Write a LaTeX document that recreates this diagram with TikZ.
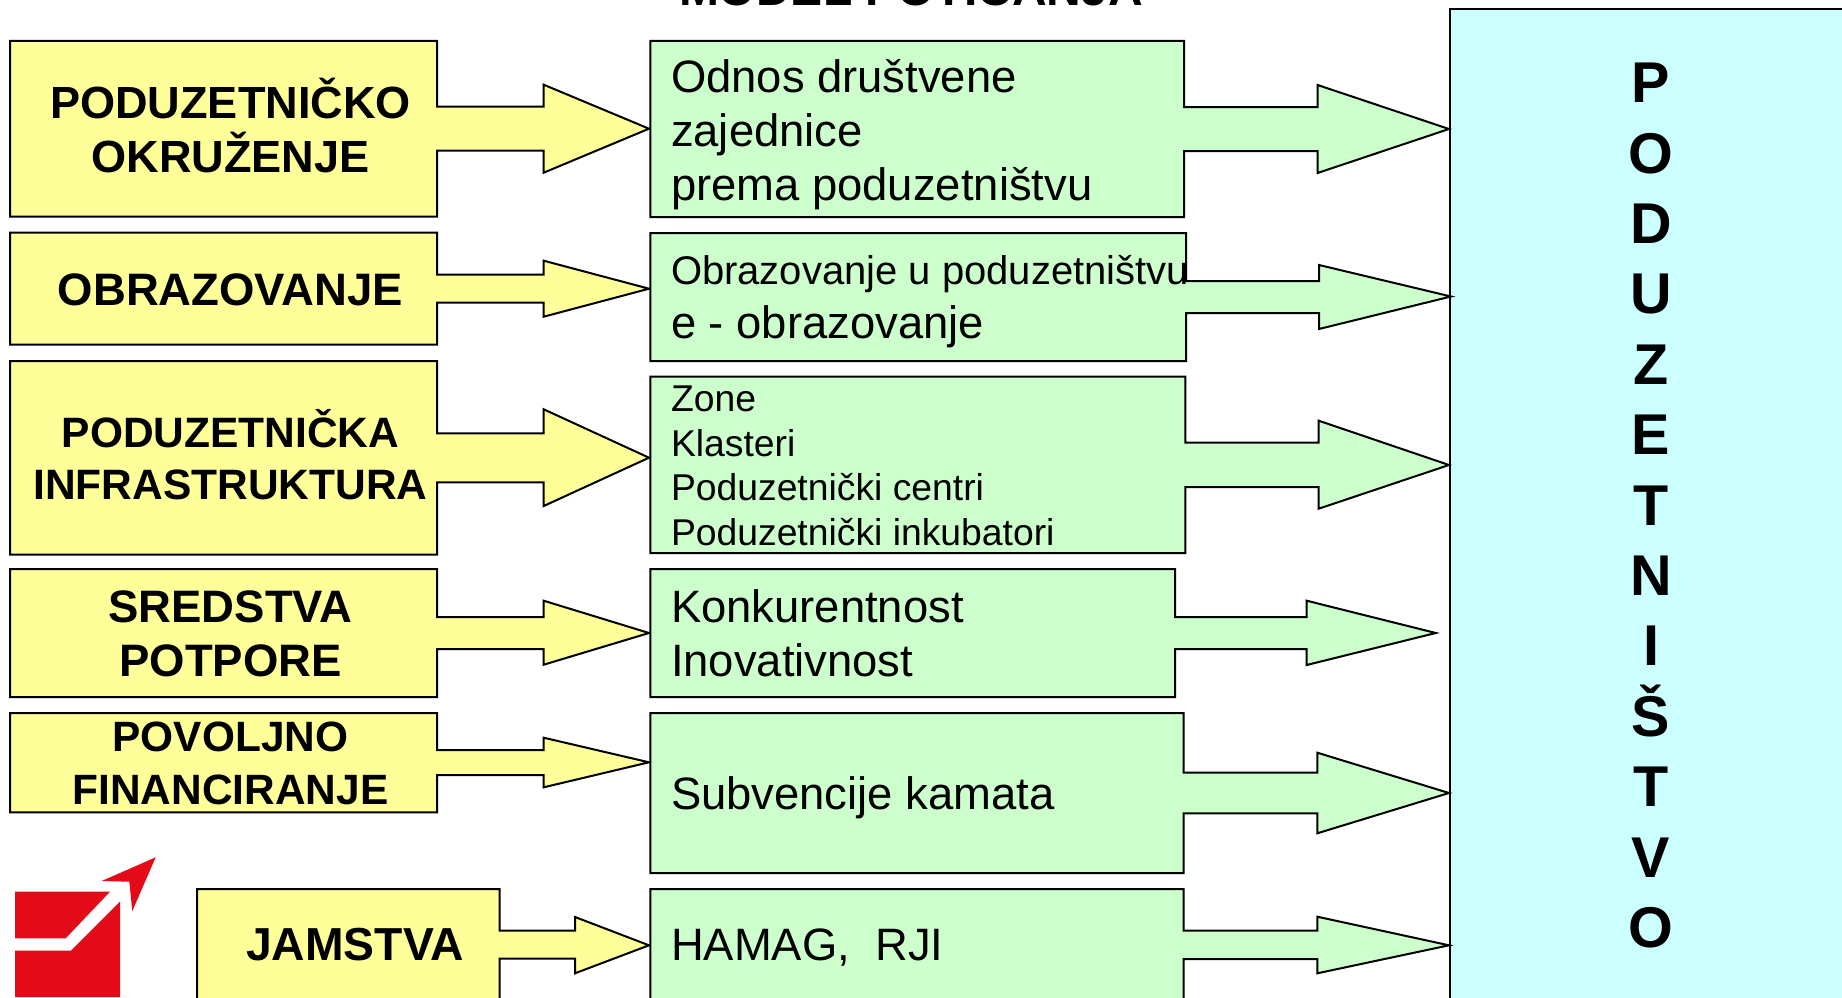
\documentclass[tikz,border=0pt]{standalone}
\usepackage{fontspec}
\setmainfont{Liberation Sans}
\definecolor{byellow}{HTML}{FFFF99}
\definecolor{bgreen}{HTML}{CCFFCC}
\definecolor{bcyan}{HTML}{CCFFFF}
\definecolor{logored}{HTML}{E30B17}
\tikzset{
  ybox/.style={draw=black,line width=2pt,fill=byellow,line join=miter},
  gbox/.style={draw=black,line width=2pt,fill=bgreen,line join=miter},
  cbox/.style={draw=black,line width=2pt,fill=bcyan},
  logo/.style={fill=logored,draw=none},
  ylabel/.style={inner sep=0pt,anchor=base,align=center,font=\fontsize{45.5}{54}\selectfont\bfseries},
  glabel/.style={inner sep=0pt,anchor=base west,align=left,font=\fontsize{45.4}{54}\selectfont},
}
\begin{document}
\begin{tikzpicture}[x=1pt,y=-1pt]
\useasboundingbox (0,0) rectangle (1842,998);
\clip (0,0) rectangle (1842,998);
\fill[white] (0,0) rectangle (1842,998);
% right box
\draw[cbox] (1450,9) rectangle (1900,1100);
% yellow boxes with block arrows
\draw[ybox] (10,41) -- (437,41) -- (437,106.7) -- (543.7,106.7) -- (543.7,84.7) -- (649,128.7) -- (543.7,172.7) -- (543.7,150.7) -- (437,150.7) -- (437,216.7) -- (10,216.7) -- cycle;
\draw[ybox] (10,232.7) -- (437,232.7) -- (437,274.7) -- (543.7,274.7) -- (543.7,260.7) -- (649,288.7) -- (543.7,316.7) -- (543.7,302.7) -- (437,302.7) -- (437,344.7) -- (10,344.7) -- cycle;
\draw[ybox] (10,361) -- (437,361) -- (437,433.3) -- (543.7,433.3) -- (543.7,409.3) -- (649,457.7) -- (543.7,506) -- (543.7,482.3) -- (437,482.3) -- (437,554.7) -- (10,554.7) -- cycle;
\draw[ybox] (10,569) -- (437,569) -- (437,617) -- (543.7,617) -- (543.7,600.7) -- (649,633) -- (543.7,664.7) -- (543.7,649) -- (437,649) -- (437,697) -- (10,697) -- cycle;
\draw[ybox] (10,713) -- (437,713) -- (437,750) -- (543.7,750) -- (543.7,737.7) -- (649,762.3) -- (543.7,787.3) -- (543.7,775) -- (437,775) -- (437,812.3) -- (10,812.3) -- cycle;
\draw[ybox] (197,889) -- (499.5,889) -- (499.5,930.7) -- (575,930.7) -- (575,917) -- (649,945.3) -- (575,973.3) -- (575,958.7) -- (499.5,958.7) -- (499.5,1020) -- (197,1020) -- cycle;
% green boxes with block arrows
\draw[gbox] (650.3,41) -- (1184,41) -- (1184,107) -- (1317.6,107) -- (1317.6,85) -- (1449,129) -- (1317.6,173) -- (1317.6,151) -- (1184,151) -- (1184,217) -- (650.3,217) -- cycle;
\draw[gbox] (650.3,233) -- (1186,233) -- (1186,281) -- (1319,281) -- (1319,265) -- (1451,296.5) -- (1319,329) -- (1319,313) -- (1186,313) -- (1186,361) -- (650.3,361) -- cycle;
\draw[gbox] (650.3,376.7) -- (1185.3,376.7) -- (1185.3,442.7) -- (1318.7,442.7) -- (1318.7,420.7) -- (1449,465) -- (1318.7,508.7) -- (1318.7,487) -- (1185.3,487) -- (1185.3,553) -- (650.3,553) -- cycle;
\draw[gbox] (650.3,569) -- (1175,569) -- (1175,617) -- (1306.7,617) -- (1306.7,600.7) -- (1435.7,633) -- (1306.7,665) -- (1306.7,649) -- (1175,649) -- (1175,697) -- (650.3,697) -- cycle;
\draw[gbox] (650.3,713) -- (1183.7,713) -- (1183.7,772.7) -- (1317.3,772.7) -- (1317.3,752.7) -- (1449,793) -- (1317.3,833.3) -- (1317.3,813.3) -- (1183.7,813.3) -- (1183.7,873) -- (650.3,873) -- cycle;
\draw[gbox] (650.3,889) -- (1183.7,889) -- (1183.7,930.7) -- (1317.3,930.7) -- (1317.3,916.7) -- (1449,945.3) -- (1317.3,973.3) -- (1317.3,959) -- (1183.7,959) -- (1183.7,1020) -- (650.3,1020) -- cycle;
% logo
\fill[logo] (15,891.7) -- (110,891.7) -- (65.7,938.3) -- (15,938.3) -- cycle;
\fill[logo] (15,950.7) -- (71,950.7) -- (120,901.7) -- (120,997) -- (15,997) -- cycle;
\fill[logo] (155.7,857.3) -- (101.7,881) -- (129.3,881.7) -- (132.3,911) -- cycle;
% title
\node[ylabel,font=\fontsize{48}{54}\selectfont\bfseries] (title) at (911,6) {MODEL POTICANJA};
% yellow labels
\node[ylabel,font=\fontsize{45.1}{54}\selectfont\bfseries] (y1) at (230.5,172.5) {PODUZETNIČKO\\OKRUŽENJE};
\node[ylabel] (y2) at (230.5,305.4) {OBRAZOVANJE};
\node[ylabel,font=\fontsize{42.5}{51.6}\selectfont\bfseries] (y3) at (230.5,499.2) {PODUZETNIČKA\\INFRASTRUKTURA};
\node[ylabel] (y4) at (230.5,676.8) {SREDSTVA\\POTPORE};
\node[ylabel,font=\fontsize{42.4}{52.5}\selectfont\bfseries] (y5) at (230.5,804) {POVOLJNO\\FINANCIRANJE};
\node[ylabel,font=\fontsize{46.3}{54}\selectfont\bfseries] (y6) at (355,960) {JAMSTVA};
% green labels
\node[glabel] (g1) at (670.8,200) {Odnos društvene\\zajednice\\prema poduzetništvu};
\node[glabel,font=\fontsize{40}{40}\selectfont] (g2a) at (670.8,284) {Obrazovanje u poduzetništvu};
\node[glabel] (g2b) at (670.8,338.5) {e - obrazovanje};
\node[glabel,font=\fontsize{37.3}{44.5}\selectfont] (g3) at (670.8,545.3) {Zone\\Klasteri\\Poduzetnički centri\\Poduzetnički inkubatori};
\node[glabel] (g4) at (670.8,676.8) {Konkurentnost\\Inovativnost};
\node[glabel] (g5) at (670.8,809.4) {Subvencije kamata};
\node[glabel] (g6) at (670.8,960.5) {HAMAG,\ \ RJI};
% vertical label
\node[ylabel,font=\fontsize{57.5}{70.4}\selectfont\bfseries] (pod) at (1651,947.5) {P\\O\\D\\U\\Z\\E\\T\\N\\I\\Š\\T\\V\\O};
\end{tikzpicture}
\end{document}
